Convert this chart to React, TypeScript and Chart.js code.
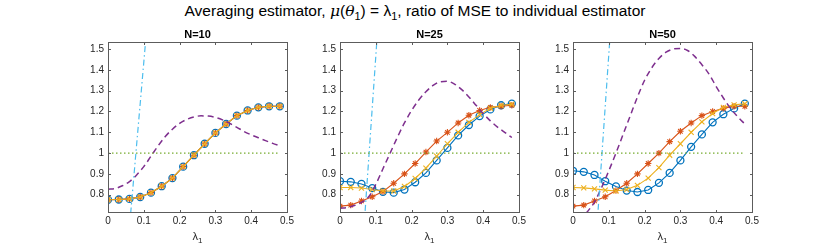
import React, { useEffect, useRef } from "react";
import { Chart, registerables } from "chart.js";

Chart.register(...registerables);

// ---- data ----
const lambdaPoints = [0, 0.03, 0.06, 0.09, 0.12, 0.15, 0.18, 0.21, 0.24, 0.27, 0.3, 0.33, 0.36, 0.39, 0.42, 0.45, 0.48];
const curveX = [0, 0.02, 0.04, 0.06, 0.08, 0.1, 0.12, 0.14, 0.16, 0.18, 0.2, 0.22, 0.24, 0.26, 0.28, 0.3, 0.32, 0.34, 0.36, 0.38, 0.4, 0.42, 0.44, 0.46, 0.48];
const refX = [0, 0.48];
const refY = [1, 1];

const panelTitles = ["N=10", "N=25", "N=50"];

const blueN10 = [0.776, 0.777, 0.78, 0.789, 0.81, 0.841, 0.88, 0.935, 0.99, 1.045, 1.097, 1.14, 1.18, 1.205, 1.22, 1.225, 1.225];
const redN10 = [0.776, 0.777, 0.78, 0.789, 0.81, 0.841, 0.88, 0.935, 0.99, 1.045, 1.097, 1.14, 1.18, 1.205, 1.22, 1.225, 1.225];
const yellowN10 = [0.776, 0.777, 0.78, 0.789, 0.81, 0.841, 0.88, 0.935, 0.99, 1.045, 1.097, 1.14, 1.18, 1.205, 1.22, 1.225, 1.225];
const purpleN10 = [0.826, 0.83, 0.843, 0.863, 0.895, 0.935, 0.985, 1.035, 1.08, 1.115, 1.143, 1.162, 1.174, 1.179, 1.178, 1.172, 1.16, 1.143, 1.124, 1.104, 1.088, 1.074, 1.06, 1.047, 1.035];
const cyanXN10 = [0.06, 0.11];
const cyanN10 = [0.645, 1.635];

const blueN25 = [0.865, 0.862, 0.852, 0.832, 0.814, 0.81, 0.825, 0.86, 0.905, 0.965, 1.025, 1.085, 1.135, 1.178, 1.21, 1.23, 1.238];
const redN25 = [0.745, 0.75, 0.77, 0.79, 0.815, 0.855, 0.9, 0.95, 1.005, 1.058, 1.1, 1.145, 1.182, 1.205, 1.22, 1.225, 1.23];
const yellowN25 = [0.835, 0.835, 0.832, 0.825, 0.818, 0.818, 0.84, 0.878, 0.928, 0.985, 1.045, 1.1, 1.148, 1.185, 1.215, 1.23, 1.235];
const purpleN25 = [0.735, 0.738, 0.748, 0.763, 0.79, 0.85, 0.925, 1.0, 1.075, 1.145, 1.205, 1.255, 1.295, 1.325, 1.343, 1.345, 1.332, 1.305, 1.27, 1.23, 1.19, 1.155, 1.125, 1.1, 1.075];
const cyanXN25 = [0.065, 0.105];
const cyanN25 = [0.593, 1.59];

const blueN50 = [0.915, 0.91, 0.895, 0.865, 0.84, 0.82, 0.813, 0.823, 0.857, 0.905, 0.965, 1.03, 1.09, 1.148, 1.187, 1.215, 1.238];
const redN50 = [0.745, 0.75, 0.77, 0.79, 0.82, 0.855, 0.9, 0.95, 1.0, 1.055, 1.105, 1.145, 1.18, 1.2, 1.215, 1.225, 1.225];
const yellowN50 = [0.835, 0.833, 0.828, 0.822, 0.818, 0.825, 0.845, 0.88, 0.93, 0.99, 1.045, 1.1, 1.15, 1.19, 1.22, 1.232, 1.237];
const purpleN50 = [0.64, 0.675, 0.718, 0.765, 0.835, 0.915, 1.0, 1.09, 1.18, 1.27, 1.35, 1.41, 1.455, 1.485, 1.5, 1.503, 1.493, 1.465, 1.425, 1.38, 1.32, 1.265, 1.215, 1.175, 1.14];
const cyanXN50 = [0.065, 0.105];
const cyanN50 = [0.598, 1.6];

const xTickValues = [0, 0.1, 0.2, 0.3, 0.4, 0.5];
const xTickLabels = ["0", "0.1", "0.2", "0.3", "0.4", "0.5"];
const yTickValues = [0.8, 0.9, 1, 1.1, 1.2, 1.3, 1.4, 1.5];
const yTickLabels = ["0.8", "0.9", "1", "1.1", "1.2", "1.3", "1.4", "1.5"];

const panels = [
  { title: panelTitles[0], blue: blueN10, red: redN10, yellow: yellowN10, purple: purpleN10, cyanX: cyanXN10, cyan: cyanN10 },
  { title: panelTitles[1], blue: blueN25, red: redN25, yellow: yellowN25, purple: purpleN25, cyanX: cyanXN25, cyan: cyanN25 },
  { title: panelTitles[2], blue: blueN50, red: redN50, yellow: yellowN50, purple: purpleN50, cyanX: cyanXN50, cyan: cyanN50 },
];

// ---- layout / style ----
const PANEL_LEFTS = [108, 340, 573];
const PLOT_W = 179;
const PLOT_TOP = 42;
const PLOT_BOTTOM = 212;
const CANVAS_H = 249;
const Y_AXIS_W = 45;
const PAD_RIGHT = 15;
const FONT = "'Liberation Sans', Arial, Helvetica, sans-serif";
const TEXT_COLOR = "#262626";
const AXIS_COLOR = "#5c5c5c";

const zip = (xs: number[], ys: number[]) => xs.map((x, i) => ({ x, y: ys[i] }));

const boxPlugin = {
  id: "matlabBox",
  afterDatasetsDraw(chart: any) {
    const { ctx, chartArea: a, scales } = chart;
    const l = Math.round(a.left) + 0.5;
    const r = Math.round(a.right) + 0.5;
    const t = Math.round(a.top) + 0.5;
    const b = Math.round(a.bottom) + 0.5;
    ctx.save();
    ctx.strokeStyle = AXIS_COLOR;
    ctx.lineWidth = 1;
    ctx.setLineDash([]);
    ctx.strokeRect(l, t, r - l, b - t);
    const tl = 2.5;
    ctx.beginPath();
    scales.x.ticks.forEach((tk: any) => {
      const px = Math.round(scales.x.getPixelForValue(tk.value)) + 0.5;
      ctx.moveTo(px, b);
      ctx.lineTo(px, b - tl);
      ctx.moveTo(px, t);
      ctx.lineTo(px, t + tl);
    });
    scales.y.ticks.forEach((tk: any) => {
      const py = Math.round(scales.y.getPixelForValue(tk.value)) + 0.5;
      ctx.moveTo(l, py);
      ctx.lineTo(l + tl, py);
      ctx.moveTo(r, py);
      ctx.lineTo(r - tl, py);
    });
    ctx.stroke();
    ctx.restore();
  },
};

function Panel({ idx }: { idx: number }) {
  const ref = useRef<HTMLCanvasElement | null>(null);
  const p = panels[idx];
  const canvasLeft = PANEL_LEFTS[idx] - Y_AXIS_W;
  const canvasW = Y_AXIS_W + PLOT_W + PAD_RIGHT;

  useEffect(() => {
    if (!ref.current) return;
    const markerLine = {
      borderWidth: 1.1,
      pointRadius: 3.5,
      pointBorderWidth: 1.1,
      pointBackgroundColor: "transparent",
      tension: 0,
      fill: false,
    };
    const chart = new Chart(ref.current, {
      type: "line",
      data: {
        datasets: [
          { ...markerLine, data: zip(lambdaPoints, p.blue), borderColor: "#0072BD", pointBorderColor: "#0072BD", pointStyle: "circle", pointBorderWidth: 1.3, order: 6 },
          { ...markerLine, data: zip(lambdaPoints, p.red), borderColor: "#D95319", pointBorderColor: "#D95319", pointStyle: "star", pointRadius: 3.2, order: 5 },
          { ...markerLine, data: zip(lambdaPoints, p.yellow), borderColor: "#EDB120", pointBorderColor: "#EDB120", pointStyle: "crossRot", pointRadius: 3.6, order: 4 },
          { data: zip(curveX, p.purple), borderColor: "#7E2F8E", borderWidth: 1.5, borderDash: [6, 4], pointRadius: 0, cubicInterpolationMode: "monotone", fill: false, order: 3 },
          { data: zip(p.cyanX, p.cyan), borderColor: "#4DBEEE", borderWidth: 1.2, borderDash: [6, 3, 1.5, 3], pointRadius: 0, tension: 0, fill: false, order: 2 },
          { data: zip(refX, refY), borderColor: "#77AC30", borderWidth: 1.2, borderDash: [1.5, 2.5], pointRadius: 0, tension: 0, fill: false, order: 1 },
        ] as any,
      },
      options: {
        animation: false,
        responsive: false,
        devicePixelRatio: 1,
        events: [],
        layout: { padding: { top: PLOT_TOP, left: 0, right: PAD_RIGHT, bottom: 0 } },
        plugins: { legend: { display: false }, tooltip: { enabled: false }, title: { display: false } },
        scales: {
          x: {
            type: "linear",
            min: 0,
            max: 0.5,
            grid: { display: false, drawTicks: false },
            border: { display: false },
            afterBuildTicks: (scale: any) => {
              scale.ticks = xTickValues.map((value) => ({ value }));
            },
            afterFit: (scale: any) => {
              scale.height = CANVAS_H - PLOT_BOTTOM;
            },
            ticks: {
              color: TEXT_COLOR,
              font: { family: FONT, size: 10 },
              padding: 3,
              maxRotation: 0,
              autoSkip: false,
              callback: (_v: any, i: number) => xTickLabels[i],
            },
          },
          y: {
            type: "linear",
            min: 0.717,
            max: 1.534,
            grid: { display: false, drawTicks: false },
            border: { display: false },
            afterBuildTicks: (scale: any) => {
              scale.ticks = yTickValues.map((value) => ({ value }));
            },
            afterFit: (scale: any) => {
              scale.width = Y_AXIS_W;
            },
            ticks: {
              color: TEXT_COLOR,
              font: { family: FONT, size: 10 },
              padding: 4,
              autoSkip: false,
              callback: (_v: any, i: number) => yTickLabels[i],
            },
          },
        },
      } as any,
      plugins: [boxPlugin],
    });
    return () => chart.destroy();
  }, [idx]);

  const center = PANEL_LEFTS[idx] + PLOT_W / 2;
  return (
    <>
      <canvas
        ref={ref}
        width={canvasW}
        height={CANVAS_H}
        style={{ position: "absolute", left: canvasLeft, top: 0, width: canvasW, height: CANVAS_H }}
      />
      <div
        style={{
          position: "absolute",
          left: center - 50,
          width: 100,
          top: 27,
          textAlign: "center",
          fontWeight: "bold",
          fontSize: 11,
          lineHeight: "14px",
          color: "#000",
          fontFamily: FONT,
        }}
      >
        {p.title}
      </div>
      <div
        style={{
          position: "absolute",
          left: center - 30,
          width: 60,
          top: 229,
          textAlign: "center",
          fontSize: 11,
          lineHeight: "14px",
          color: TEXT_COLOR,
          fontFamily: FONT,
        }}
      >
        λ<sub style={{ fontSize: 8, verticalAlign: "-3px", lineHeight: 0 }}>1</sub>
      </div>
    </>
  );
}

export default function App() {
  return (
    <div style={{ position: "absolute", left: 0, top: 0, width: 830, height: 249, background: "#fff", overflow: "hidden" }}>
      <div
        style={{
          position: "absolute",
          left: 0,
          width: 830,
          top: 2,
          textAlign: "center",
          fontSize: 15.5,
          lineHeight: "18px",
          color: "#000",
          fontFamily: FONT,
          whiteSpace: "nowrap",
        }}
      >
        Averaging estimator, <i style={{ fontFamily: "'DejaVu Serif', serif" }}>μ</i>(<i style={{ fontFamily: "'DejaVu Serif', serif" }}>θ</i>
        <sub style={{ fontSize: 11, verticalAlign: "-4px", lineHeight: 0 }}>1</sub>) = <span>λ</span>
        <sub style={{ fontSize: 11, verticalAlign: "-4px", lineHeight: 0 }}>1</sub>, ratio of MSE to individual estimator
      </div>
      {panels.map((_, i) => (
        <Panel key={i} idx={i} />
      ))}
    </div>
  );
}
